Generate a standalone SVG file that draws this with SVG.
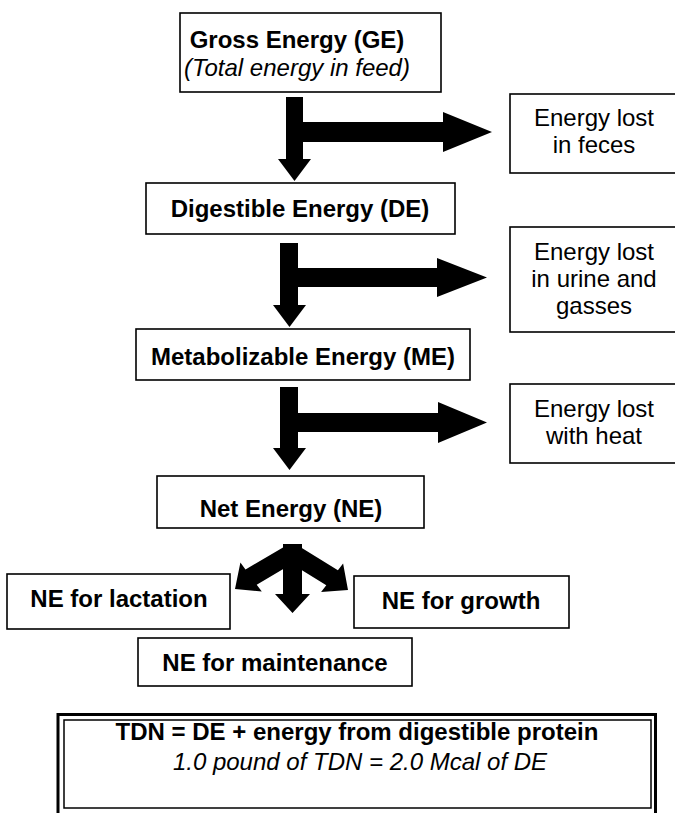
<svg xmlns="http://www.w3.org/2000/svg" width="675" height="813" viewBox="0 0 675 813">
<style>
.box{fill:#fff;stroke:#000;stroke-width:1.6}
.b{font-family:"Liberation Sans",Arial,sans-serif;font-size:24px;font-weight:bold;text-anchor:middle;fill:#000}
.r{font-family:"Liberation Sans",Arial,sans-serif;font-size:24px;text-anchor:middle;fill:#000}
.i{font-family:"Liberation Sans",Arial,sans-serif;font-size:24px;font-style:italic;text-anchor:middle;fill:#000}
.arr{fill:#000;stroke:none}
</style>
<rect width="675" height="813" fill="#fff"/>
<g id="connectors">
<path class="arr" d="M286,97 H303 V122 H443 V112 L492,132 L443,152 V142 H303 V159 H311 L294.5,181 L278,159 H286 Z"/>
<path class="arr" d="M280,243 H298 V268 H437 V258 L487,277.5 L437,297 V287 H298 V305 H306 L289.5,327 L273,305 H280 Z"/>
<path class="arr" d="M280,387 H298 V413 H438 V402 L487,422.5 L438,443 V432 H298 V448 H306 L289.5,470 L273,448 H280 Z"/>
<g id="split">
<path class="arr" d="M283,544 H302 V594 H310 L292.5,613 L275,594 H283 Z"/>
<path class="arr" d="M286.4,545.4 L297.6,560.6 L256.7,584.7 L261.8,591.6 L235,589 L240.4,562.6 L245.5,569.5 Z"/>
<path class="arr" d="M297.8,545.5 L286.2,560.5 L326.3,585.3 L321.1,592.1 L348,590 L343.1,563.5 L337.9,570.3 Z"/>
</g>
</g>
<g id="ge">
<rect class="box" x="180" y="13" width="261" height="79"/>
<text class="b" x="297" y="48">Gross Energy (GE)</text>
<text class="i" x="297" y="76">(Total energy in feed)</text>
</g>
<g id="feces">
<rect class="box" x="510" y="94" width="175" height="79"/>
<text class="r" x="594" y="126">Energy lost</text>
<text class="r" x="594" y="153">in feces</text>
</g>
<g id="de">
<rect class="box" x="146" y="183" width="309" height="51"/>
<text class="b" x="300" y="217">Digestible Energy (DE)</text>
</g>
<g id="urine">
<rect class="box" x="510" y="227" width="175" height="105"/>
<text class="r" x="594" y="260">Energy lost</text>
<text class="r" x="594" y="287">in urine and</text>
<text class="r" x="594" y="314">gasses</text>
</g>
<g id="me">
<rect class="box" x="136" y="329" width="334" height="51"/>
<text class="b" x="303" y="365">Metabolizable Energy (ME)</text>
</g>
<g id="heat">
<rect class="box" x="510" y="384" width="175" height="79"/>
<text class="r" x="594" y="417">Energy lost</text>
<text class="r" x="594" y="444">with heat</text>
</g>
<g id="ne">
<rect class="box" x="157" y="476" width="267" height="52"/>
<text class="b" x="291" y="517">Net Energy (NE)</text>
</g>
<g id="lactation">
<rect class="box" x="7" y="574" width="223" height="55"/>
<text class="b" x="119" y="607">NE for lactation</text>
</g>
<g id="growth">
<rect class="box" x="354" y="576" width="215" height="52"/>
<text class="b" x="461" y="609">NE for growth</text>
</g>
<g id="maintenance">
<rect class="box" x="138" y="638" width="274" height="48"/>
<text class="b" x="275" y="671">NE for maintenance</text>
</g>
<g id="tdn">
<rect x="58" y="714.5" width="597.5" height="120" fill="#fff" stroke="#000" stroke-width="3"/>
<rect x="64" y="720" width="587" height="88" fill="none" stroke="#000" stroke-width="1.5"/>
<text class="b" x="357" y="740">TDN = DE + energy from digestible protein</text>
<text class="i" x="360" y="770">1.0 pound of TDN = 2.0 Mcal of DE</text>
</g>
</svg>
